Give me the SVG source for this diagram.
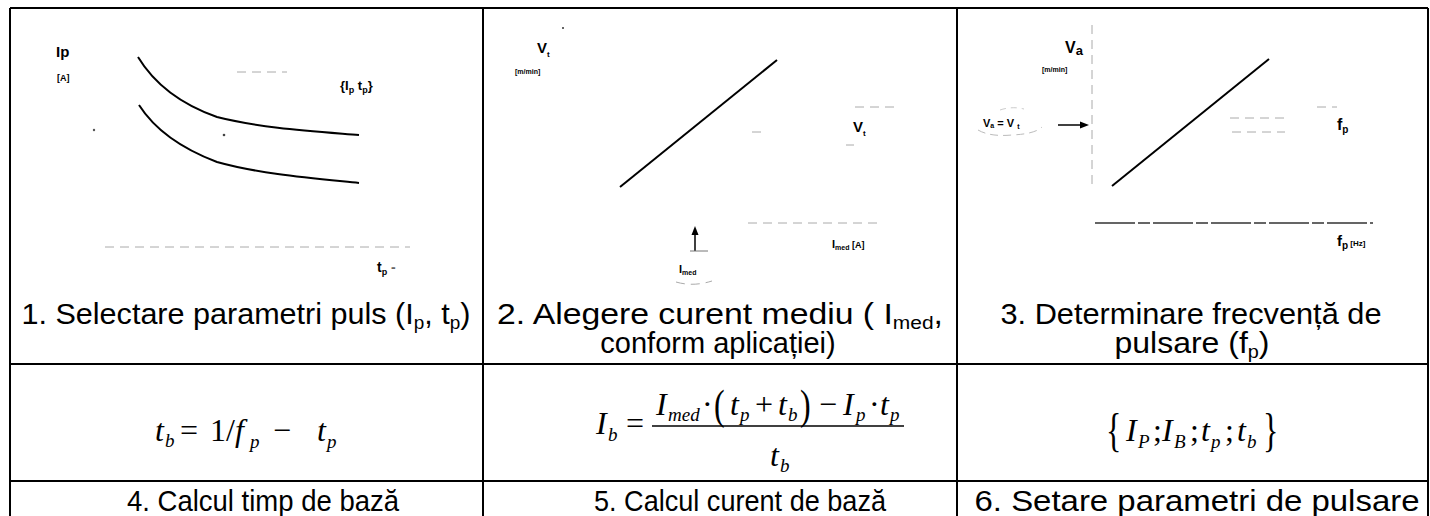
<svg xmlns="http://www.w3.org/2000/svg" width="1430" height="516" viewBox="0 0 1430 516">
<style>
.cap{font-family:"Liberation Sans",Arial,sans-serif;font-size:29px;fill:#000}
.lbl{font-family:"Liberation Sans",Arial,sans-serif;font-weight:bold;fill:#000}
.m{font-family:"Liberation Serif","Times New Roman",serif;font-style:italic;font-size:32px;fill:#000}
.mu{font-family:"Liberation Serif","Times New Roman",serif;font-size:32px;fill:#000}
.ms{font-family:"Liberation Serif","Times New Roman",serif;font-style:italic;font-size:19px;fill:#000}
.grid line{stroke:#000;stroke-width:2}
.curve{stroke:#000;stroke-width:2;fill:none}
.faint{stroke:#aaa;stroke-width:1;stroke-dasharray:9 6;fill:none}
.axis{stroke:#333;stroke-width:1.4;stroke-dasharray:40 3 12 3;fill:none}
</style>
<rect width="1430" height="516" fill="#fff"/>
<g id="connectors" class="grid">
<line x1="10" y1="8" x2="1428" y2="8"/>
<line x1="10" y1="8" x2="10" y2="516"/>
<line x1="1428" y1="8" x2="1428" y2="516"/>
<line x1="483" y1="8" x2="483" y2="516"/>
<line x1="957" y1="8" x2="957" y2="516"/>
<line x1="10" y1="364" x2="1428" y2="364"/>
<line x1="10" y1="481" x2="1428" y2="481"/>
</g>

<g id="step1">
<text class="lbl" x="56" y="57" font-size="15" font-weight="normal">Ip</text>
<text class="lbl" x="57" y="81" font-size="9">[A]</text>
<path class="curve" d="M138,57 C155,85 180,104 217,117 C260,128 310,131 359,135"/>
<path class="curve" d="M139,105 C155,130 180,148 217,162 C260,174 310,178 359,183"/>
<line class="faint" x1="237" y1="72" x2="287" y2="72"/>
<line class="faint" x1="105" y1="247" x2="410" y2="247"/>
<circle cx="94" cy="130" r="1.2" fill="#555"/>
<circle cx="224" cy="135" r="1.3" fill="#444"/>
<text class="lbl" x="340" y="90" font-size="13" font-weight="normal">{I<tspan font-size="9" dy="3">p</tspan><tspan dy="-3"> t</tspan><tspan font-size="9" dy="3">p</tspan><tspan dy="-3">}</tspan></text>
<text class="lbl" x="377" y="272" font-size="14" font-weight="normal">t<tspan font-size="9" dy="3">p</tspan><tspan dy="-3" fill="#666"> -</tspan></text>
<text class="cap" x="246" y="324" text-anchor="middle" textLength="449" lengthAdjust="spacingAndGlyphs">1. Selectare parametri puls (I<tspan font-size="18" dy="5">p</tspan><tspan dy="-5">, t</tspan><tspan font-size="18" dy="5">p</tspan><tspan dy="-5">)</tspan></text>
</g>

<g id="step2">
<text class="lbl" x="537" y="53" font-size="15">V<tspan font-size="8" dy="4">t</tspan></text>
<text class="lbl" x="515" y="74" font-size="7">[m/min]</text>
<circle cx="563" cy="28" r="1" fill="#333"/>
<line class="curve" x1="620" y1="187" x2="777" y2="60"/>
<text class="lbl" x="853" y="132" font-size="15">V<tspan font-size="8" dy="4">t</tspan></text>
<line class="faint" x1="855" y1="107" x2="895" y2="107"/>
<line class="faint" x1="846" y1="145" x2="854" y2="145"/>
<line class="faint" x1="752" y1="132" x2="764" y2="132"/>
<line class="faint" x1="748" y1="223" x2="880" y2="223"/>
<text class="lbl" x="832" y="248" font-size="11">I<tspan font-size="7" dy="2">med</tspan><tspan dy="-2" font-size="9">   [A]</tspan></text>
<line x1="695" y1="251" x2="695" y2="233" stroke="#000" stroke-width="1.5"/>
<polygon points="695,226 691.5,235 698.5,235" fill="#000"/>
<line x1="690" y1="251" x2="708" y2="251" stroke="#777" stroke-width="1"/>
<text class="lbl" x="679" y="273" font-size="11">I<tspan font-size="7" dy="2">med</tspan></text>
<path class="faint" d="M676,282 Q693,287 712,281"/>
<text class="cap" x="720" y="324" text-anchor="middle" textLength="446" lengthAdjust="spacingAndGlyphs">2. Alegere curent mediu ( I<tspan font-size="18" dy="5">med</tspan><tspan dy="-5">,</tspan></text>
<text class="cap" x="718" y="353" text-anchor="middle">conform aplicației)</text>
</g>

<g id="step3">
<text class="lbl" x="1065" y="53" font-size="16">V<tspan font-size="13" dy="2">a</tspan></text>
<text class="lbl" x="1042" y="72" font-size="7">[m/min]</text>
<line class="faint" x1="1092" y1="25" x2="1092" y2="190" stroke="#c4c4c4"/>
<line class="curve" x1="1112" y1="186" x2="1269" y2="59"/>
<text class="lbl" x="983" y="127" font-size="11">V<tspan font-size="7" dy="1">a</tspan><tspan dy="-1"> = V </tspan><tspan font-size="7" dy="2">t</tspan></text>
<path d="M978,130 Q990,137 1012,135 Q1035,134 1042,127" fill="none" stroke="#bbb" stroke-width="1" stroke-dasharray="8 5"/>
<path d="M1000,110 Q1012,106 1024,109" fill="none" stroke="#ccc" stroke-width="1" stroke-dasharray="6 5"/>
<line x1="1058" y1="125" x2="1082" y2="125" stroke="#000" stroke-width="1.5"/>
<polygon points="1089,125 1080,121.5 1080,128.5" fill="#000"/>
<line class="faint" x1="1230" y1="118" x2="1287" y2="118"/>
<line class="faint" x1="1232" y1="132" x2="1285" y2="132"/>
<line class="faint" x1="1317" y1="107" x2="1337" y2="107"/>
<text class="lbl" x="1337" y="130" font-size="16">f<tspan font-size="10" dy="3">p</tspan></text>
<line class="axis" x1="1095" y1="223" x2="1373" y2="223"/>
<text class="lbl" x="1337" y="246" font-size="15">f<tspan font-size="10" dy="3">p</tspan><tspan font-size="8" dy="-3">  [Hz]</tspan></text>
<text class="cap" x="1191" y="324" text-anchor="middle" textLength="381" lengthAdjust="spacingAndGlyphs">3. Determinare frecvență de</text>
<text class="cap" x="1192" y="353" text-anchor="middle" textLength="155" lengthAdjust="spacingAndGlyphs">pulsare (f<tspan font-size="18" dy="5">p</tspan><tspan dy="-5">)</tspan></text>
</g>

<g id="step4">
<text class="m" x="155" y="441">t</text><text class="ms" x="165" y="447">b</text>
<text class="mu" x="180" y="441">=</text>
<text class="mu" x="210" y="441">1/</text>
<text class="m" x="235" y="441">f</text><text class="ms" x="250" y="448">p</text>
<text class="mu" x="273" y="441">−</text>
<text class="m" x="317" y="441">t</text><text class="ms" x="327" y="448">p</text>
<text class="cap" x="263" y="511" text-anchor="middle" textLength="272" lengthAdjust="spacingAndGlyphs">4. Calcul timp de bază</text>
</g>

<g id="step5">
<text class="m" x="596" y="434">I</text><text class="ms" x="608" y="441">b</text>
<text class="mu" x="626" y="434">=</text>
<text class="m" x="656" y="415">I</text><text class="ms" x="668" y="421">med</text>
<text class="mu" x="702" y="415">·</text>
<text class="mu" transform="translate(714,419) scale(1,1.35)" font-size="34">(</text>
<text class="m" x="730" y="415">t</text><text class="ms" x="740" y="421">p</text>
<text class="mu" x="755" y="415">+</text>
<text class="m" x="778" y="415">t</text><text class="ms" x="788" y="421">b</text>
<text class="mu" transform="translate(800,419) scale(1,1.35)" font-size="34">)</text>
<text class="mu" x="819" y="415">−</text>
<text class="m" x="843" y="415">I</text><text class="ms" x="856" y="421">p</text>
<text class="mu" x="869" y="415">·</text>
<text class="m" x="880" y="415">t</text><text class="ms" x="890" y="421">p</text>
<line x1="652" y1="426" x2="904" y2="426" stroke="#000" stroke-width="1.6"/>
<text class="m" x="770" y="466">t</text><text class="ms" x="780" y="472">b</text>
<text class="cap" x="740" y="511" text-anchor="middle" textLength="292" lengthAdjust="spacingAndGlyphs">5. Calcul curent de bază</text>
</g>

<g id="step6">
<text class="mu" transform="translate(1106,446) scale(1,1.45)" font-size="36">{</text>
<text class="m" x="1126" y="441">I</text><text class="ms" x="1138" y="448">P</text>
<text class="mu" x="1153" y="441">;</text>
<text class="m" x="1162" y="441">I</text><text class="ms" x="1174" y="448">B</text>
<text class="mu" x="1190" y="441">;</text>
<text class="m" x="1201" y="441">t</text><text class="ms" x="1211" y="448">p</text>
<text class="mu" x="1225" y="441">;</text>
<text class="m" x="1237" y="441">t</text><text class="ms" x="1247" y="448">b</text>
<text class="mu" transform="translate(1263,446) scale(1,1.45)" font-size="36">}</text>
<text class="cap" x="1197" y="511" text-anchor="middle" textLength="445" lengthAdjust="spacingAndGlyphs">6. Setare parametri de pulsare</text>
</g>
</svg>
